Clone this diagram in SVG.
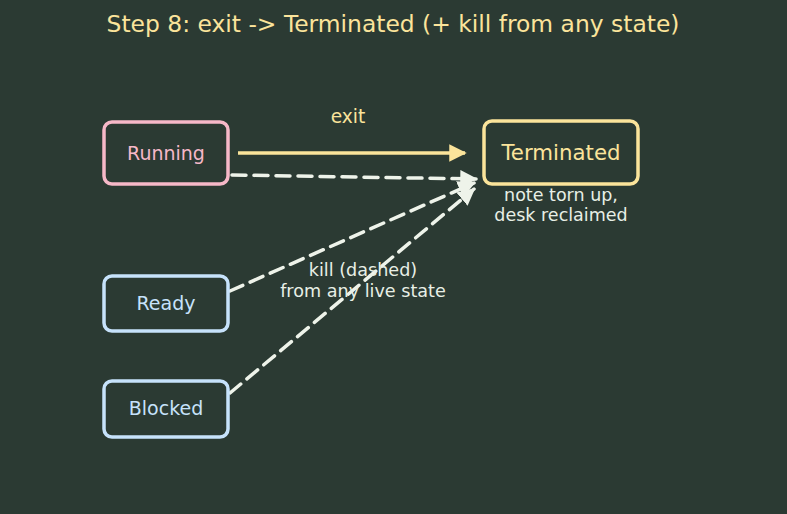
<svg xmlns="http://www.w3.org/2000/svg" width="787" height="514" viewBox="0 0 787 514">
<defs>
<style>
text{font-family:"DejaVu Sans","Liberation Sans",sans-serif;text-anchor:middle}
.box{fill:#2b3a33;stroke-width:3.5}
.kill{stroke:#eef3ea;stroke-width:3.5;stroke-dasharray:14 8;fill:none;stroke-linecap:round}
</style>
<marker id="ay" viewBox="0 0 10 10" refX="9" refY="5" markerWidth="5" markerHeight="5" orient="auto" markerUnits="strokeWidth"><path d="M0,0 L10,5 L0,10 z" fill="#fbe49b"/></marker>
<marker id="aw" viewBox="0 0 10 10" refX="9" refY="5" markerWidth="5" markerHeight="5" orient="auto" markerUnits="strokeWidth"><path d="M0,0 L10,5 L0,10 z" fill="#eef3ea"/></marker>
</defs>
<rect width="787" height="514" fill="#2b3a33"/>
<text x="393" y="32" font-size="23.4" fill="#fbe49b">Step 8: exit -&gt; Terminated (+ kill from any state)</text>
<g id="connectors">
<line x1="238" y1="153" x2="465" y2="153" stroke="#fbe49b" stroke-width="3.5" marker-end="url(#ay)"/>
<text x="348" y="123" font-size="18.6" fill="#fbe49b">exit</text>
<path class="kill" d="M232,175 L476,179" marker-end="url(#aw)"/>
<path class="kill" d="M230,291 L474,183" marker-end="url(#aw)"/>
<path class="kill" d="M230,393 L474,189" marker-end="url(#aw)"/>
<text x="363" y="276" font-size="17.6" fill="#e8efe6">kill (dashed)</text>
<text x="363" y="297" font-size="17.6" fill="#e8efe6">from any live state</text>
</g>
<g id="running"><rect class="box" x="104" y="122" width="124" height="62" rx="8" stroke="#f6b8c8"/><text x="166" y="159.5" font-size="19" fill="#f6b8c8">Running</text></g>
<g id="terminated"><rect class="box" x="484" y="121" width="154" height="63" rx="8" stroke="#fbe49b"/><text x="561" y="159.5" font-size="21.3" fill="#fbe49b">Terminated</text>
<text x="561" y="201" font-size="17.5" fill="#e8efe6">note torn up,</text>
<text x="561" y="221" font-size="17.5" fill="#e8efe6">desk reclaimed</text></g>
<g id="ready"><rect class="box" x="104" y="276" width="124" height="55" rx="8" stroke="#c6e2fb"/><text x="166" y="310" font-size="19" fill="#c6e2fb">Ready</text></g>
<g id="blocked"><rect class="box" x="104" y="381" width="124" height="56" rx="8" stroke="#c6e2fb"/><text x="166" y="415" font-size="19" fill="#c6e2fb">Blocked</text></g>
</svg>
